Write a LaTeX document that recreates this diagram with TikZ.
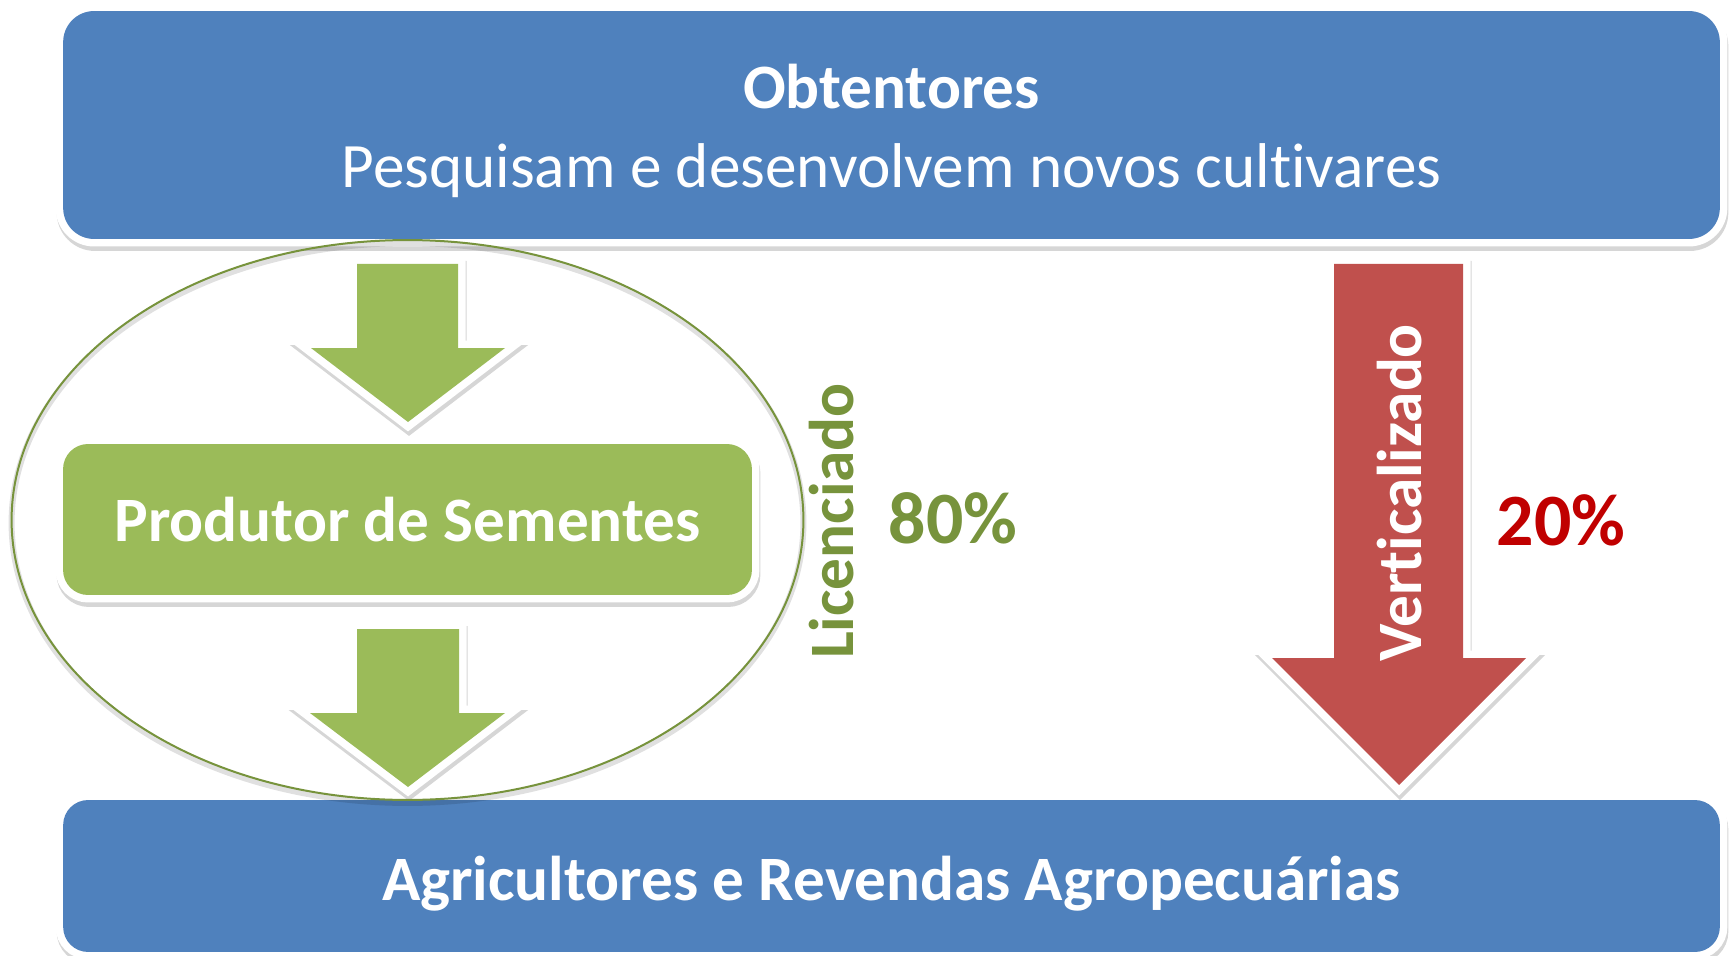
\documentclass[tikz,border=0pt]{standalone}
\usepackage{fontspec}
\setmainfont{Carlito}[Ligatures={NoCommon}]
\usetikzlibrary{shadows}
\definecolor{boxblue}{HTML}{4F81BD}
\definecolor{boxgreen}{HTML}{9BBB59}
\definecolor{boxred}{HTML}{C0504D}
\definecolor{olivetext}{HTML}{77933C}
\definecolor{darkred}{HTML}{C00000}
\begin{document}
\begin{tikzpicture}[x=0.02cm, y=-0.02cm,
  softshadow/.style={general shadow={shadow xshift=0.02cm, shadow yshift=-0.09cm, fill=black, draw=black, line width=0.3cm, opacity=0.16}},
  whiteframe/.style={preaction={draw=white, line width=0.3cm}},
  panel/.style={softshadow, whiteframe, fill=#1, inner sep=0pt},
  blockarrow/.style={softshadow, whiteframe, fill=#1},
  bigtext/.style={font=\fontsize{36}{45.4}\selectfont, text=white, align=center},
  bigbold/.style={font=\fontsize{36}{45.4}\selectfont\bfseries},
  pct/.style={font=\fontsize{42}{50}\selectfont\bfseries},
  ringline/.style={draw=olivetext, line width=0.04cm,
    general shadow={shadow xshift=0cm, shadow yshift=-0.06cm, draw=black, line width=0.12cm, opacity=0.12}},
]
\useasboundingbox (0,0) rectangle (1731,956);

% boxes
\node[panel=boxblue, rounded corners=0.62cm, minimum width=33.14cm, minimum height=4.56cm] (obt) at (891.5,125) {};
\node[panel=boxgreen, rounded corners=0.5cm, minimum width=13.78cm, minimum height=3.02cm] (prod) at (407.5,519.5) {};
\node[panel=boxblue, rounded corners=0.5cm, minimum width=33.14cm, minimum height=3.04cm] (agri) at (891.5,876) {};

% box texts
\node[bigtext] (obttext) at (891.5,131) {{\bfseries Obtentores}\\Pesquisam e desenvolvem novos cultivares};
\node[bigtext, bigbold] (prodtext) at (407.5,519.5) {Produtor de Sementes};
\node[bigtext, bigbold] (agritext) at (891.5,883.5) {Agricultores e Revendas Agropecuárias};

% block arrows
\path[blockarrow=boxgreen] (357,264) -- (458,264) -- (458,348) -- (505,348) -- (408,422) -- (311,348) -- (357,348) -- cycle;
\path[blockarrow=boxgreen] (357,629) -- (459,629) -- (459,713) -- (505,713) -- (408,787) -- (310,713) -- (357,713) -- cycle;
\path[blockarrow=boxred] (1334,264) -- (1463,264) -- (1463,658) -- (1526,658) -- (1399,785) -- (1272,658) -- (1334,658) -- cycle;

% ring around licensed path
\path[ringline] (407.5,520) ellipse [x radius=7.92cm, y radius=5.6cm];

% labels
\node[bigbold, text=olivetext, rotate=90] (lic) at (832,521) {Licenciado};
\node[pct, text=olivetext] (p80) at (953,518) {80\%};
\node[bigbold, text=white, rotate=90] (vert) at (1400,493) {Verticalizado};
\node[pct, text=darkred] (p20) at (1561,520) {20\%};
\end{tikzpicture}
\end{document}
